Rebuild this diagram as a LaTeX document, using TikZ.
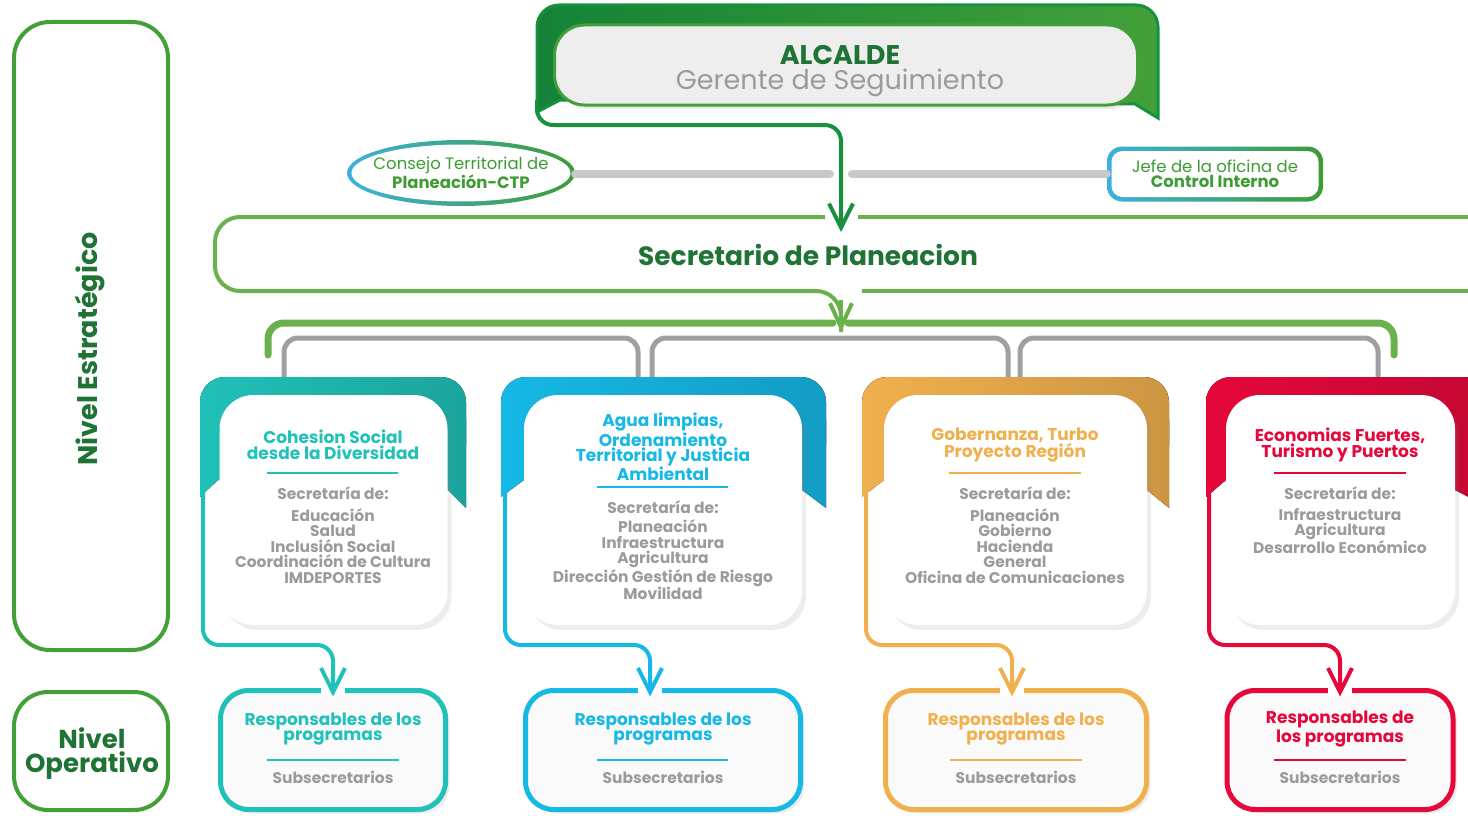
\documentclass[tikz,border=0pt]{standalone}
\usepackage{fontspec}
\setmainfont{Poppins}
\usepackage{tikz}
\usetikzlibrary{arrows.meta, shadows, shapes.geometric}
\newcommand{\fsz}[2]{\fontsize{#1}{#2}\selectfont}
\definecolor{dkgreen}{HTML}{1F7335}
\definecolor{midgreen}{HTML}{3E9C35}
\definecolor{ltgreen}{HTML}{6AB04C}
\definecolor{arrgreen}{HTML}{17913D}
\definecolor{framegreen}{HTML}{43A038}
\definecolor{cteal}{HTML}{20C1B8}
\definecolor{cblue}{HTML}{16B8E6}
\definecolor{corange}{HTML}{F1B04E}
\definecolor{cred}{HTML}{E5083A}
\definecolor{txtgray}{HTML}{9B9B9B}
\definecolor{bargray}{HTML}{C8C8C8}
\definecolor{brgray}{HTML}{A0A0A0}
\definecolor{ringblue}{HTML}{3DB1DE}
\definecolor{alcfill}{HTML}{EEEEEE}

\begin{document}
\begin{tikzpicture}[x=1pt, y=-1pt,
	lvl/.style={draw=framegreen, line width=4pt, rounded corners=36pt, inner sep=0pt},
	card/.style={fill=white, rounded corners=34pt, inner sep=0pt, drop shadow={opacity=.14, shadow xshift=4pt, shadow yshift=-5pt}},
	respbox/.style={draw=#1, line width=5pt, fill=gray!4, rounded corners=28pt, inner sep=0pt, drop shadow={opacity=.15, shadow xshift=4pt, shadow yshift=-4pt}},
	backing/.style={left color=#1, right color=#1!85!black},
	link/.style={draw=#1, line width=4pt, rounded corners=16pt, -{Straight Barb[length=24pt, width=24pt]}},
	knock/.style={draw=white, line width=24pt},
	ttl/.style={text=#1, font=\bfseries\fsz{17}{15.5}, align=center, inner sep=0pt},
	lst/.style={text=txtgray, font=\bfseries\fsz{15.5}{15.5}, align=center, inner sep=0pt},
	sepline/.style={draw=#1, line width=2pt},
	bracket/.style={draw=brgray, line width=5pt, rounded corners=14pt},
	gbar/.style={draw=ltgreen, line width=7pt, rounded corners=16pt, line cap=round},
	secframe/.style={draw=ltgreen, line width=4pt},
	lvltxt/.style={text=dkgreen, font=\bfseries\fsz{26}{26}, inner sep=0pt},
	]
	\useasboundingbox (0,0) rectangle (1468,816);
	
	% niveles
	\node[lvl, minimum width=154, minimum height=628] (estr) at (91,336) {};
	\node[lvltxt, rotate=90, font=\bfseries\fsz{27}{27}] (estrTxt) at (90,349) {Nivel Estratégico};
	\node[lvl, minimum width=154, minimum height=118, rounded corners=34pt] (oper) at (91,751) {};
	\node[lvltxt, anchor=base] (operA) at (92,748) {Nivel};
	\node[lvltxt, anchor=base] (operB) at (92,772) {Operativo};
	
	% alcalde
	\filldraw[draw=arrgreen, line width=3pt, left color=arrgreen!90!black, right color=framegreen, rounded corners=22pt]
		(537,112) -- (537,5) -- (1158,5) [sharp corners] -- (1158,118) -- (1135,104) -- (560,100) -- cycle;
	\node[fill=alcfill, draw=framegreen, line width=3pt, rounded corners=30pt, minimum width=583, minimum height=80,
		drop shadow={opacity=.15, shadow xshift=3pt, shadow yshift=-4pt}] (alc) at (846,65) {};
	\node[inner sep=0pt, text=dkgreen, font=\bfseries\fsz{27}{27}, anchor=base] (alcTit) at (840,65) {ALCALDE};
	\node[inner sep=0pt, text=txtgray, font=\fsz{27}{27}, anchor=base] (alcSub) at (840,90) {Gerente de Seguimiento};
	
	% consejo y control interno
	\node[ellipse, minimum width=228, minimum height=66, inner sep=0pt, left color=ringblue, right color=midgreen] (ctp) at (461,173) {};
	\node[ellipse, minimum width=219, minimum height=57, inner sep=0pt, fill=white] (ctpIn) at (ctp) {};
	\node[align=center, inner sep=0pt, text=midgreen, font=\fsz{16.5}{14.5}] (ctpTxt) at (ctp) {Consejo Territorial de\\\textbf{Planeación-CTP}};
	\node[rounded corners=15pt, minimum width=216, minimum height=55, inner sep=0pt, left color=ringblue, right color=midgreen] (jefe) at (1215,174) {};
	\node[rounded corners=11pt, minimum width=207, minimum height=46, inner sep=0pt, fill=white] (jefeIn) at (jefe) {};
	\node[align=center, inner sep=0pt, text=midgreen, font=\fsz{16.5}{14.5}] (jefeTxt) at (jefe) {Jefe de la oficina de\\\textbf{Control Interno}};
	\draw[bargray, line width=8pt, line cap=round] (ctp.east |- 0,174) -- (830,174);
	\draw[bargray, line width=8pt, line cap=round] (852,174) -- (jefe.west);
	
	% secretario
	\draw[secframe] (825,217) [rounded corners=25pt] -- (215,217) -- (215,291) -- (841,291) [rounded corners=12pt] -- (841,332);
	\draw[secframe, -{Straight Barb[length=24pt, width=22pt]}] (841,300) -- (841,332);
	\draw[secframe] (858,217) -- (1490,217);
	\draw[secframe] (862,291) -- (1490,291);
	\node[text=dkgreen, font=\bfseries\fsz{26.5}{26}] (sec) at (808,255) {Secretario de Planeacion};
	
	\coordinate (alcout) at (537,100);
	\coordinate (alcin) at (841,232);
	\draw[link=arrgreen] (alcout) |- (841,125) -- (alcin);
	
	% barras de reparto
	\draw[gbar] (268,355) -- (268,323) -- (833,323);
	\draw[gbar] (848,323) -- (1394,323) -- (1394,355);
	\foreach \a/\b in {284/638, 652/1008, 1020/1378}
		\draw[bracket] (\a,380) -- (\a,338) -- (\b,338) -- (\b,380);
	
	% fondos de colores
	\fill[backing=cteal, rounded corners=25pt] (200,470) -- (200,377) -- (466,377) -- (466,470) -- cycle;
	\fill[backing=cteal] (200,420) -- (466,420) -- (466,508) -- (448,490) -- (218,480) -- (200,497) -- cycle;
	\fill[backing=cblue, rounded corners=25pt] (501,470) -- (501,377) -- (826,377) -- (826,470) -- cycle;
	\fill[backing=cblue] (501,420) -- (826,420) -- (826,508) -- (802,490) -- (524,480) -- (501,497) -- cycle;
	\fill[backing=corange, rounded corners=25pt] (862,470) -- (862,377) -- (1169,377) -- (1169,470) -- cycle;
	\fill[backing=corange] (862,420) -- (1169,420) -- (1169,508) -- (1147,490) -- (884,480) -- (862,497) -- cycle;
	\fill[backing=cred, rounded corners=25pt] (1206,470) -- (1206,377) -- (1490,377) -- (1490,470) -- cycle;
	\fill[backing=cred] (1206,420) -- (1490,420) -- (1490,508) -- (1455,490) -- (1226,480) -- (1206,497) -- cycle;
	
	% tarjetas
	\node[card, minimum width=228, minimum height=230] (card1) at (333.5,510) {};
	\node[card, minimum width=278, minimum height=230] (card2) at (663,510) {};
	\node[card, minimum width=263, minimum height=230] (card3) at (1015.5,510) {};
	\node[card, minimum width=229, minimum height=230] (card4) at (1340.5,510) {};
	
	\node[ttl=cteal] (tit1) at (333,445) {Cohesion Social\\desde la Diversidad};
	\draw[sepline=cteal] (267,473) -- (398,473);
	\node[lst] (sec1) at (333,493) {Secretaría de:};
	\node[lst] (lis1) at (333,546) {Educación\\Salud\\Inclusión Social\\Coordinación de Cultura\\IMDEPORTES};
	
	\node[ttl=cblue] (tit2) at (663,447) {Agua limpias,\\Ordenamiento\\Territorial y Justicia\\Ambiental};
	\draw[sepline=cblue] (597,487) -- (728,487);
	\node[lst] (sec2) at (663,507) {Secretaría de:};
	\node[lst] (lis2) at (663,560) {Planeación\\Infraestructura\\Agricultura\\Dirección Gestión de Riesgo\\Movilidad};
	
	\node[ttl=corange] (tit3) at (1015,445) {Gobernanza, Turbo\\Proyecto Región};
	\draw[sepline=corange] (949,473) -- (1081,473);
	\node[lst] (sec3) at (1015,493) {Secretaría de:};
	\node[lst] (lis3) at (1015,546) {Planeación\\Gobierno\\Hacienda\\General\\Oficina de Comunicaciones};
	
	\node[ttl=cred] (tit4) at (1340,445) {Economias Fuertes,\\Turismo y Puertos};
	\draw[sepline=cred] (1274,473) -- (1406,473);
	\node[lst] (sec4) at (1340,493) {Secretaría de:};
	\node[lst] (lis4) at (1340,531) {Infraestructura\\Agricultura\\Desarrollo Económico};
	
	% responsables
	\node[respbox=cteal, minimum width=225, minimum height=119] (resp1) at (333,750) {};
	\node[respbox=cblue, minimum width=275, minimum height=119] (resp2) at (663,750) {};
	\node[respbox=corange, minimum width=261, minimum height=119] (resp3) at (1016,750) {};
	\node[respbox=cred, minimum width=226, minimum height=119] (resp4) at (1340,750) {};
	
	\node[ttl=cteal] (rt1) at (333,729) {Responsables de los\\programas};
	\draw[sepline=cteal] (267,760) -- (399,760);
	\node[lst] (rs1) at (333,777) {Subsecretarios};
	\node[ttl=cblue] (rt2) at (663,729) {Responsables de los\\programas};
	\draw[sepline=cblue] (597,760) -- (728,760);
	\node[lst] (rs2) at (663,777) {Subsecretarios};
	\node[ttl=corange] (rt3) at (1016,729) {Responsables de los\\programas};
	\draw[sepline=corange] (950,760) -- (1082,760);
	\node[lst] (rs3) at (1016,777) {Subsecretarios};
	\node[ttl=cred] (rt4) at (1340,729) {Responsables de\\los programas};
	\draw[sepline=cred] (1274,760) -- (1406,760);
	\node[lst] (rs4) at (1340,777) {Subsecretarios};
	
	% conectores
	\foreach \o/\x/\c/\r in {203/333/cteal/resp1, 505/650/cblue/resp2, 866/1012/corange/resp3, 1209/1340/cred/resp4}{
		\draw[knock] (\x,678) -- (\x,696);
		\coordinate (out) at (\o,490);
		\draw[link=\c, shorten >=-6pt] (out) |- (\x,645) -- (\x,690.5);
	}
\end{tikzpicture}
\end{document}
